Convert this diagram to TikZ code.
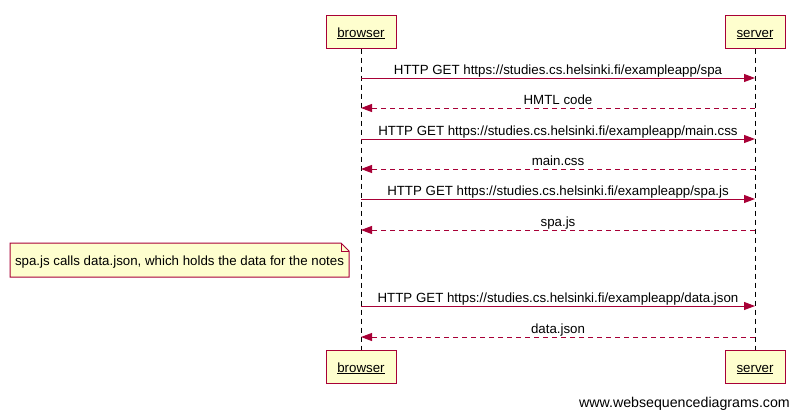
\documentclass[tikz,border=0pt]{standalone}
\usepackage{fontspec}
\setmainfont{Liberation Sans}
\usetikzlibrary{arrows.meta}
\definecolor{wsdred}{HTML}{A80036}
\definecolor{wsdyellow}{HTML}{FEFECE}

\begin{document}
\begin{tikzpicture}[x=1pt, y=-1pt,
    actor/.style={draw=wsdred, fill=wsdyellow, line width=1pt, minimum height=33pt, inner sep=0pt, text height=11pt, text depth=0pt, font=\fontsize{13.3}{15}\selectfont},
    life/.style={line width=1pt, dash pattern=on 5pt off 4pt},
    call/.style={wsdred, line width=1pt, -{Triangle[length=11pt, width=8pt]}},
    reply/.style={call, dash pattern=on 5pt off 4pt},
    msg/.style={midway, anchor=base, yshift=3.5pt, inner sep=0pt, black, font=\fontsize{13.3}{15}\selectfont}]
	\useasboundingbox (0,0) rectangle (799,418);
	% Participantes arriba
	\node[actor, minimum width=70pt] (browser) at (361,31.5) {\underline{browser}};
	\node[actor, minimum width=60pt] (server) at (755,31.5) {\underline{server}};
	% Participantes abajo
	\node[actor, minimum width=70pt] (browserb) at (361,366.5) {\underline{browser}};
	\node[actor, minimum width=60pt] (serverb) at (755,366.5) {\underline{server}};
	% Líneas de vida
	\draw[life] (browser) -- (browserb);
	\draw[life] (server) -- (serverb);
	% Puntos de los mensajes
	\foreach \i/\y in {1/78,2/108,3/139,4/169,5/199,6/230,7/306,8/337}
	{
		\coordinate (b\i) at (361,\y);
		\coordinate (s\i) at (755,\y);
	}
	% Peticiones y respuestas
	\draw[call] (b1) -- (s1) node[msg] {HTTP GET https://studies.cs.helsinki.fi/exampleapp/spa};
	\draw[reply] (s2) -- (b2) node[msg] {HMTL code};
	\draw[call] (b3) -- (s3) node[msg] {HTTP GET https://studies.cs.helsinki.fi/exampleapp/main.css};
	\draw[reply] (s4) -- (b4) node[msg] {main.css};
	\draw[call] (b5) -- (s5) node[msg] {HTTP GET https://studies.cs.helsinki.fi/exampleapp/spa.js};
	\draw[reply] (s6) -- (b6) node[msg] {spa.js};
	\draw[call] (b7) -- (s7) node[msg] {HTTP GET https://studies.cs.helsinki.fi/exampleapp/data.json};
	\draw[reply] (s8) -- (b8) node[msg] {data.json};
	% Nota
	\draw[wsdred, fill=wsdyellow, line width=1pt] (10,243) -- (341,243) -- (349,251) -- (349,277) -- (10,277) -- cycle;
	\draw[wsdred, line width=1pt] (341,243) -- (341,251) -- (349,251);
	\node[anchor=base, inner sep=0pt, font=\fontsize{13.3}{15}\selectfont] (note) at (179.5,265) {spa.js calls data.json, which holds the data for the notes};
	% Marca de agua
	\node[anchor=base east, inner sep=0pt, font=\fontsize{14.2}{16}\selectfont] (wsd) at (790,407) {www.websequencediagrams.com};
\end{tikzpicture}
\end{document}
